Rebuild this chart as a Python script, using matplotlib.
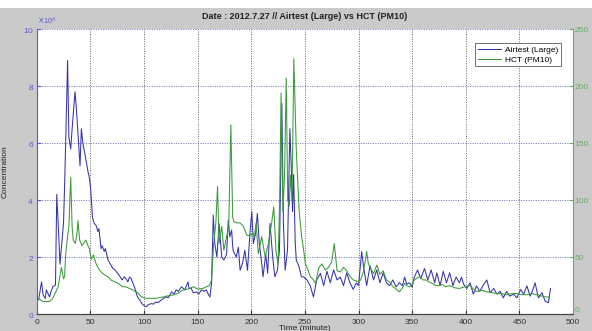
import matplotlib
matplotlib.use("Agg")
import matplotlib.pyplot as plt
from matplotlib.patches import Rectangle

title = "Date : 2012.7.27 // Airtest (Large) vs HCT (PM10)"
xlabel = "Time (minute)"
ylabel = "Concentration"
legend_labels = ["Airtest (Large)", "HCT (PM10)"]
x_ticks = [0, 50, 100, 150, 200, 250, 300, 350, 400, 450, 500]
left_ticks = [0, 20000, 40000, 60000, 80000, 100000]
right_ticks = [0, 50, 100, 150, 200, 250]

# Airtest (Large), concentration in units of 1e4
blue_t = [0, 2, 4.5, 6, 8, 9, 12, 13, 15, 17.5, 18.7, 20.5, 21.7, 23.6, 25, 26, 27, 28.8, 30, 31.7,
          33, 35.7, 37, 38, 40.4, 41.6, 43, 44, 46, 47.8, 49, 50.3, 52, 53.4, 55.5, 57, 58, 60, 61, 63,
          64, 66.5, 68, 71, 73, 75.6, 78, 79.6, 81.8, 84, 85, 86.5, 88, 90, 91, 94, 96, 98, 100, 102,
          104, 106.7, 109, 111, 113, 116, 118, 121, 123, 125.6, 128, 130, 132, 135, 138, 141, 142, 144,
          146, 149, 151, 153.6, 156, 158, 160, 161.5, 163, 164.6, 166, 168, 170, 172.5, 174.5, 177,
          178.6, 180, 181.7, 183, 186, 188, 189.6, 192, 194, 196.5, 199, 200.5, 202, 204, 205.7, 207.5,
          209.7, 211, 213.5, 215.3, 217.5, 220, 222, 224.4, 226.3, 228.5, 230, 231.6, 233.8, 236, 237,
          238.5, 239.5, 241, 242, 244.6, 246.8, 249, 252, 255, 258, 261, 264.5, 267.5, 270.6, 273.7,
          276.8, 280, 283, 286, 289, 292, 295, 298, 300, 303, 304.5, 307.6, 310.7, 314, 317, 320, 323,
          326, 329, 332, 335, 338, 341, 343, 345, 347.6, 350, 352, 355, 358, 361.5, 364.6, 367.7, 371,
          373, 376, 379, 382, 385, 388, 391, 394, 396, 398, 401, 404, 407, 410, 413, 416, 419.6, 422.7,
          426, 429, 432, 435, 438, 441, 444.6, 447.7, 451, 454, 457, 460, 462, 464.6, 467.7, 471, 474,
          477, 479]
blue_v = [0.45, 0.55, 1.13, 0.67, 0.55, 0.85, 0.6, 0.75, 0.96, 1.02, 4.2, 2.8, 1.75, 2.6, 3.2, 4.5, 6.0, 8.9, 6.2, 5.8,
          6.5, 7.8, 7.2, 6.6, 5.2, 6.5, 6.0, 5.8, 5.4, 5.0, 4.8, 4.4, 3.4, 3.2, 3.1, 2.9, 3.0, 2.3, 2.4, 2.2,
          2.3, 1.9, 1.8, 1.6, 1.55, 1.43, 1.3, 1.2, 1.31, 1.2, 1.13, 1.3, 1.25, 1.05, 0.96, 0.6, 0.5, 0.37, 0.3, 0.26,
          0.33, 0.37, 0.35, 0.43, 0.4, 0.49, 0.55, 0.6, 0.58, 0.78, 0.7, 0.85, 0.8, 0.96, 0.85, 1.13, 0.9, 0.9,
          0.75, 0.78, 0.7, 0.85, 0.8, 0.85, 0.7, 0.6, 1.08, 3.47, 2.48, 2.0, 3.18, 2.0, 1.9, 2.1,
          3.3, 2.71, 2.95, 2.24, 2.0, 2.35, 1.54, 1.8, 2.24, 1.54, 2.95, 3.6, 2.48, 2.83, 3.53, 2.48,
          1.8, 1.31, 2.1, 1.43, 3.18, 2.0, 1.31, 1.54, 2.24, 7.4, 3.18, 1.54, 2.24, 6.5, 5.5,
          3.6, 4.9, 2.5, 1.9, 1.66, 1.31, 1.3, 1.2, 0.99, 0.6, 1.2, 1.43, 1.0, 1.5, 1.1,
          1.55, 1.2, 1.3, 1.0, 1.45, 1.1, 0.87, 1.1, 1.0, 2.2, 1.7, 1.0, 1.7, 1.2, 1.55, 1.1, 1.45,
          1.1, 1.0, 1.2, 0.95, 1.1, 1.0, 1.3, 1.05, 1.1, 0.95, 1.3, 1.55, 1.25, 1.6, 1.2, 1.55, 1.1,
          1.45, 1.0, 1.5, 1.1, 1.45, 1.0, 1.3, 1.1, 1.3, 1.05, 0.9, 1.1, 0.7, 0.99, 0.8, 1.0, 1.2, 0.75,
          0.9, 0.7, 0.8, 0.57, 0.8, 0.63, 0.7, 0.57, 0.86, 0.7, 0.99, 0.63, 0.8, 1.1, 0.57, 0.75, 0.45,
          0.4, 0.9]

# HCT (PM10)
green_t = [0, 3, 6, 9, 12, 15, 17, 20, 22, 23, 25, 26, 27, 29, 30, 31.7, 33, 34, 36, 37.5, 38.5, 40, 41.5,
           42, 44.5, 46, 47.7, 49, 50.8, 53, 55, 57, 59, 61.7, 64, 66.5, 69, 72.5, 76, 80, 83, 86.6, 90,
           92.7, 95, 97.5, 100, 102, 105, 108, 112, 117.6, 122, 127, 131, 136, 141, 146, 150, 155, 158,
           161, 163, 165, 167, 168.6, 170, 172.5, 174.5, 177, 179, 181, 182.7, 184, 186.5, 189.6, 192.7,
           196, 199, 201.4, 203, 204.5, 206.6, 209.7, 213, 216, 219, 221, 223, 225, 226.5, 227.8, 229.5,
           231, 232.6, 234, 235.5, 236.5, 238, 239.7, 241, 242, 244.6, 247, 249, 250.5, 252, 255, 258,
           260, 263, 266, 269, 272, 275, 277.4, 280, 283, 286, 289, 292, 295, 300, 302, 304.5, 306,
           307.6, 309, 310.7, 314, 317, 320, 323, 326, 329, 332, 335, 338, 341, 343, 345, 347.6, 350,
           352, 357, 360, 363, 366, 369, 372, 375, 378, 381, 385, 390, 394, 399, 404, 407, 410, 415,
           419.6, 424, 429, 433, 438, 443, 447.7, 452, 457, 462, 466, 470, 475, 478]
green_v = [12, 13, 11, 11, 11, 14, 18, 24, 35, 41, 31, 33, 52, 70, 77, 120, 77, 65, 62, 70, 82, 65, 62,
           60, 63, 65, 60, 58, 48, 52, 45, 41, 38, 35.6, 34, 32.8, 30, 28.4, 27, 24, 24, 22.5, 21,
           19.6, 18, 15.2, 14.5, 13.8, 14, 13.8, 14, 15, 16, 16.7, 18, 21, 22, 24, 22, 22.5, 24,
           25, 30, 62, 80, 112, 62, 77, 56, 68, 77, 166, 85, 81, 80, 80, 77,
           69, 69, 71, 68, 80, 53, 68, 50, 62, 80, 94, 56, 44, 100, 194, 90,
           120, 207, 100, 95, 122, 100, 224, 179, 144, 91, 68, 55, 44, 41, 33, 30,
           27, 41, 44, 38.5, 41, 46, 62, 38, 37, 41, 38, 33, 30, 28.6, 30, 37, 45,
           55, 45, 41, 35.6, 43, 35, 38, 30, 28, 24, 22, 19.6, 23, 27, 25, 24, 26,
           30, 33, 30, 30, 28, 27, 25, 25, 26, 24, 25, 23, 22.5, 24, 25, 22, 19.6, 21,
           19.6, 19, 18, 18, 17, 18, 18, 17, 17, 18, 17, 16, 15, 15]

blue_vals = [v * 10000 for v in blue_v]

BLUE = "#3434a8"
GREEN = "#3a9a3a"
TICK_BLUE = "#5a5ad0"
TICK_GREEN = "#6aaa6a"
BG = "#cacaca"

plt.rcParams['font.family'] = ['Liberation Sans', 'DejaVu Sans']
fig = plt.figure(figsize=(5.92, 3.31), dpi=100, facecolor=BG)
fig.patches.append(Rectangle((0, 0.975), 1, 0.025, transform=fig.transFigure,
                             facecolor="white", edgecolor="none", zorder=0))
ax = fig.add_axes([0.062, 0.051, 0.906, 0.861])
ax.set_facecolor("white")
ax2 = ax.twinx()

l1, = ax.plot(blue_t, blue_vals, color=BLUE, lw=0.75, label=legend_labels[0])
l2, = ax2.plot(green_t, green_v, color=GREEN, lw=0.75, label=legend_labels[1])

ax.set_xlim(0, 500)
ax.set_ylim(0, 100000)
ax2.set_ylim(0, 250)
ax.set_xticks(x_ticks)
ax.set_yticks(left_ticks)
ax2.set_yticks(right_ticks)
ax.ticklabel_format(axis='y', style='sci', scilimits=(4, 4), useMathText=True)
ax.yaxis.get_offset_text().set_fontsize(5.5)
ax.yaxis.get_offset_text().set_color(TICK_BLUE)

ax.grid(True, axis='x', color="#333333", linestyle=(0, (1.5, 2)), lw=0.5)
ax.grid(True, axis='y', color="#4444aa", linestyle=(0, (1.5, 2)), lw=0.5)

ax.tick_params(axis='x', direction='in', length=3, labelsize=6, pad=3.5, colors="#333333")
ax.tick_params(axis='y', direction='in', length=3, labelsize=6, pad=2, colors=TICK_BLUE)
ax2.tick_params(axis='y', direction='in', length=3, labelsize=6, pad=1, colors=TICK_GREEN)
for lbl in ax2.get_yticklabels():
    if lbl.get_text() == "0":
        lbl.set_va("bottom")

for s in ["top"]:
    ax.spines[s].set_visible(False)
    ax2.spines[s].set_visible(False)
ax.spines["left"].set_color(TICK_BLUE)
ax.spines["right"].set_visible(False)
ax2.spines["left"].set_visible(False)
ax2.spines["right"].set_color(TICK_GREEN)
ax2.spines["bottom"].set_color("#444444")
ax.spines["bottom"].set_color("#444444")

ax.set_title(title, fontsize=6.5, fontweight="bold", color="#222222", pad=7)
ax.set_xlabel(xlabel, fontsize=6, color="#222222", labelpad=-1)
ax.set_ylabel(ylabel, fontsize=6, color="#222222", labelpad=10)

leg = ax2.legend(handles=[l1, l2], loc="upper right", bbox_to_anchor=(0.986, 0.965),
                 fontsize=6, frameon=True, fancybox=False, borderpad=0.35,
                 handlelength=2.8, handletextpad=0.5, labelspacing=0.2)
leg.get_frame().set_edgecolor("#333333")
leg.get_frame().set_linewidth(0.6)

fig.savefig("out.png", dpi=100, facecolor=BG)
